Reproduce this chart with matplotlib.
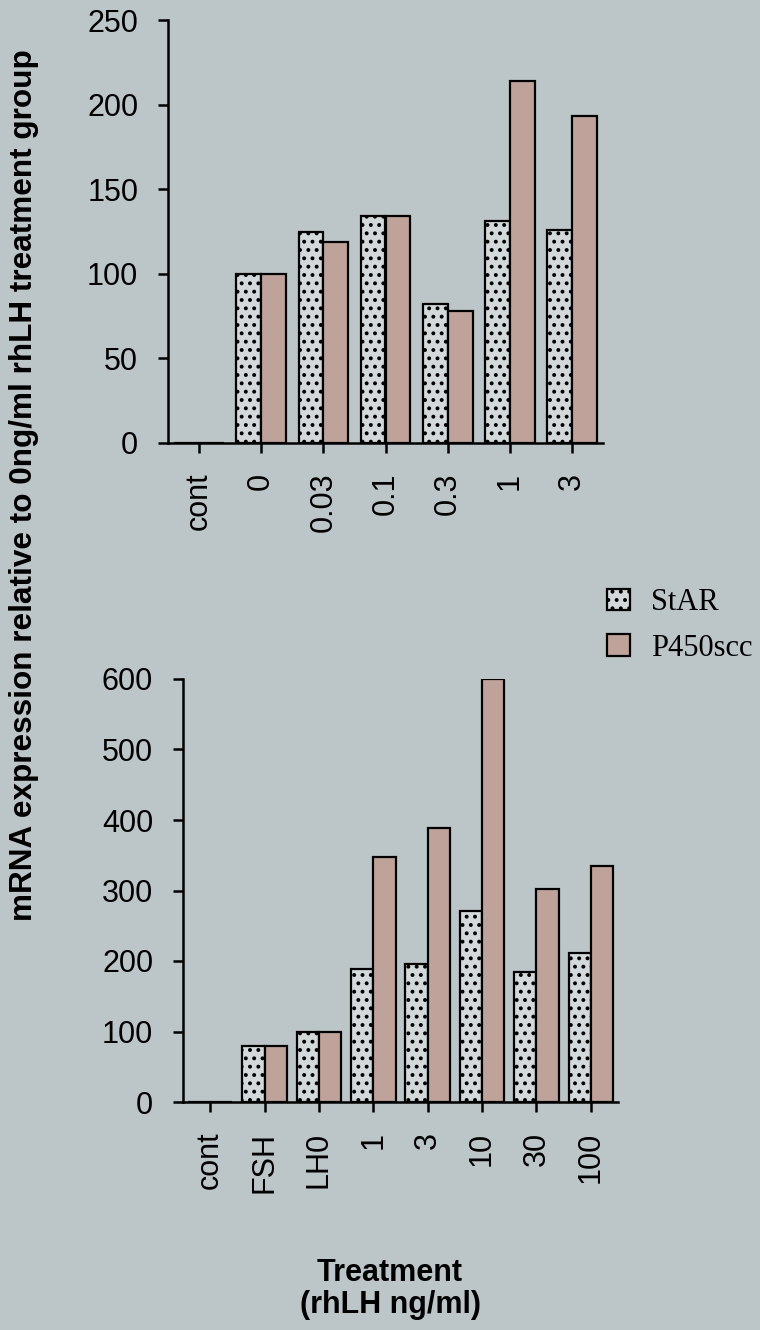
import matplotlib
matplotlib.use('Agg')
import matplotlib.pyplot as plt
import matplotlib.patches as mpatches
import numpy as np

# top panel: rhLH dose series
top_labels = ['cont', '0', '0.03', '0.1', '0.3', '1', '3']
top_star = [0, 100, 125, 134, 82, 131, 126]
top_p450 = [0, 100, 119, 134, 78, 214, 193]

# bottom panel: FSH / LH series
bot_labels = ['cont', 'FSH', 'LH0', '1', '3', '10', '30', '100']
bot_star = [0, 80, 100, 189, 196, 271, 184, 211]
bot_p450 = [0, 80, 100, 347, 388, 600, 302, 335]

bg = '#bcc5c8'
star_face = '#d3d9da'
p450_face = '#bfa39a'

plt.rcParams['font.family'] = ['Liberation Sans', 'DejaVu Sans']
plt.rcParams['hatch.linewidth'] = 1.6

fig = plt.figure(figsize=(7.6, 13.3), dpi=100, facecolor=bg)


def panel(rect, labels, star, p450, ymax, yticks, w):
    ax = fig.add_axes(rect, facecolor=bg)
    x = np.arange(len(labels))
    ax.bar(x - w / 2, star, w, color=star_face, edgecolor='black',
           linewidth=1.6, hatch='..')
    ax.bar(x + w / 2, p450, w, color=p450_face, edgecolor='black',
           linewidth=1.6)
    ax.set_xlim(-0.5, len(labels) - 0.5)
    ax.set_ylim(0, ymax)
    ax.set_yticks(yticks)
    ax.set_xticks(x)
    ax.set_xticklabels(labels, rotation=90)
    for s in ['top', 'right']:
        ax.spines[s].set_visible(False)
    for s in ['left', 'bottom']:
        ax.spines[s].set_linewidth(1.8)
    ax.tick_params(axis='both', direction='out', length=7.5, width=1.8,
                   labelsize=22, pad=14)
    return ax


ax1 = panel([168 / 760, 1 - 443 / 1330, 435 / 760, 423 / 1330],
            top_labels, top_star, top_p450, 250, [0, 50, 100, 150, 200, 250], 0.4)
ax2 = panel([183 / 760, 1 - 1102 / 1330, 435 / 760, 423 / 1330],
            bot_labels, bot_star, bot_p450, 600, [0, 100, 200, 300, 400, 500, 600], 0.41)

fig.text(24 / 760, 1 - 485 / 1330,
         'mRNA expression relative to 0ng/ml rhLH treatment group',
         rotation=90, ha='center', va='center', fontsize=22.7,
         fontweight='bold')

fig.text(390 / 760, 1 - 1258 / 1330, 'Treatment\n(rhLH ng/ml)',
         ha='center', va='top', fontsize=22, fontweight='bold',
         linespacing=1.1)

handles = [mpatches.Patch(facecolor=star_face, edgecolor='black',
                          linewidth=1.6, hatch='..', label='StAR'),
           mpatches.Patch(facecolor=p450_face, edgecolor='black',
                          linewidth=1.6, label='P450scc')]
fig.legend(handles=handles, loc='upper left',
           bbox_to_anchor=(607 / 760, 1 - 588 / 1330), frameon=False,
           prop={'family': 'Liberation Serif', 'size': 22},
           handlelength=0.75, handleheight=0.7, handletextpad=0.7,
           labelspacing=0.55, borderpad=0, borderaxespad=0)

fig.savefig('out.png', dpi=100, facecolor=bg)
